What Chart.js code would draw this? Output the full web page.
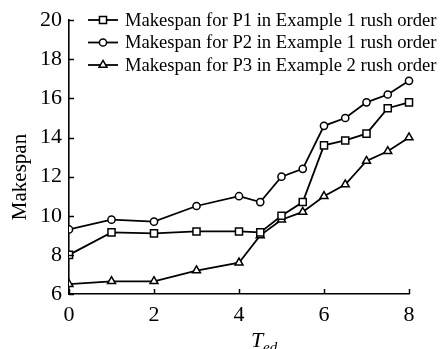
<!DOCTYPE html>
<html>
<head>
<meta charset="utf-8">
<script src="https://cdn.jsdelivr.net/npm/chart.js@4"></script>
<style>
  html, body { margin: 0; padding: 0; background: #fff; }
  #wrap { width: 440px; height: 349px; position: relative; }
</style>
</head>
<body>
<div id="wrap"><canvas id="makespanChart"></canvas></div>
<script>
// T_ed values on the x axis
const tedValues = [0, 1, 2, 3, 4, 4.5, 5, 5.5, 6, 6.5, 7, 7.5, 8];

const p1Makespan = [8.0, 9.15, 9.1, 9.2, 9.2, 9.15, 10.0, 10.7, 13.6, 13.85, 14.2, 15.5, 15.8];
const p2Makespan = [9.3, 9.8, 9.7, 10.5, 11.0, 10.7, 12.0, 12.4, 14.6, 15.0, 15.8, 16.2, 16.9];
const p3Makespan = [6.5, 6.65, 6.65, 7.2, 7.6, 9.0, 9.8, 10.2, 11.0, 11.6, 12.8, 13.3, 14.0];

const seriesLabels = [
    'Makespan for P1 in Example 1 rush order',
    'Makespan for P2 in Example 1 rush order',
    'Makespan for P3 in Example 2 rush order'
];

const SERIF = '"Liberation Serif", "Times New Roman", serif';

function toPoints(values) {
    return tedValues.map((x, i) => ({ x: x, y: values[i] }));
}

function makeDataset(label, values, style, radius) {
    return {
        label: label,
        data: toPoints(values),
        borderColor: '#000',
        borderWidth: 1.8,
        pointStyle: style,
        pointRadius: radius,
        pointBackgroundColor: '#fff',
        pointBorderColor: '#000',
        pointBorderWidth: 1.5,
        tension: 0,
        // markers on the y axis are half hidden, the ones at x=8 are not
        clip: { left: 0, top: 10, right: 10, bottom: 10 }
    };
}

// inward tick marks, legend and axis titles drawn by hand
const decorations = {
    id: 'decorations',
    afterDraw(chart) {
        const ctx = chart.ctx;
        const xs = chart.scales.x;
        const ys = chart.scales.y;
        const area = chart.chartArea;

        ctx.save();
        ctx.strokeStyle = '#000';
        ctx.lineWidth = 1.5;
        ys.ticks.forEach(t => {
            const py = Math.round(ys.getPixelForValue(t.value)) + 0.5;
            ctx.beginPath();
            ctx.moveTo(area.left, py);
            ctx.lineTo(area.left + 5, py);
            ctx.stroke();
        });
        xs.ticks.forEach(t => {
            const px = Math.round(xs.getPixelForValue(t.value)) + 0.5;
            ctx.beginPath();
            ctx.moveTo(px, area.bottom);
            ctx.lineTo(px, area.bottom - 5);
            ctx.stroke();
        });

        // legend
        const rowY = [20, 42.5, 65];
        ctx.font = '18.6px ' + SERIF;
        ctx.textBaseline = 'middle';
        ctx.textAlign = 'left';
        chart.data.datasets.forEach((ds, i) => {
            const y = rowY[i];
            ctx.strokeStyle = '#000';
            ctx.lineWidth = ds.borderWidth;
            ctx.beginPath();
            ctx.moveTo(88, y);
            ctx.lineTo(118, y);
            ctx.stroke();
            ctx.fillStyle = '#fff';
            ctx.lineWidth = ds.pointBorderWidth;
            Chart.helpers.drawPoint(ctx, {
                pointStyle: ds.pointStyle,
                radius: ds.pointRadius,
                rotation: 0,
                borderWidth: ds.pointBorderWidth
            }, 103, y);
            ctx.fillStyle = '#000';
            ctx.fillText(ds.label, 125, y + 1);
        });

        // y title
        ctx.save();
        ctx.translate(20, 177);
        ctx.rotate(-Math.PI / 2);
        ctx.font = '21px ' + SERIF;
        ctx.textAlign = 'center';
        ctx.textBaseline = 'middle';
        ctx.fillStyle = '#000';
        ctx.fillText('Makespan', 0, 0);
        ctx.restore();

        // x title T_ed
        ctx.fillStyle = '#000';
        ctx.textAlign = 'left';
        ctx.textBaseline = 'alphabetic';
        ctx.font = 'italic 22px ' + SERIF;
        ctx.fillText('T', 251, 347);
        ctx.font = 'italic 15px ' + SERIF;
        ctx.fillText('ed', 263, 352);
        ctx.restore();
    }
};

new Chart(document.getElementById('makespanChart'), {
    type: 'line',
    data: {
        datasets: [
            makeDataset(seriesLabels[0], p1Makespan, 'rect', 5),
            makeDataset(seriesLabels[1], p2Makespan, 'circle', 3.6),
            makeDataset(seriesLabels[2], p3Makespan, 'triangle', 4.6)
        ]
    },
    options: {
        responsive: true,
        maintainAspectRatio: false,
        animation: false,
        layout: { padding: { top: 19, right: 31, left: 0, bottom: 0 } },
        plugins: {
            legend: { display: false },
            tooltip: { enabled: false }
        },
        scales: {
            x: {
                type: 'linear',
                min: 0,
                max: 8,
                grid: { display: true, drawOnChartArea: false, drawTicks: false },
                border: { display: true, color: '#000', width: 1.6 },
                ticks: {
                    stepSize: 2,
                    padding: 8,
                    color: '#000',
                    font: { family: SERIF, size: 22 }
                },
                afterFit(scale) { scale.height = 55; }
            },
            y: {
                min: 6,
                max: 20,
                grid: { display: true, drawOnChartArea: false, drawTicks: false },
                border: { display: true, color: '#000', width: 1.6 },
                ticks: {
                    stepSize: 2,
                    padding: 7,
                    color: '#000',
                    font: { family: SERIF, size: 22 }
                },
                afterFit(scale) { scale.width = 69; }
            }
        }
    },
    plugins: [decorations]
});
</script>
</body>
</html>
